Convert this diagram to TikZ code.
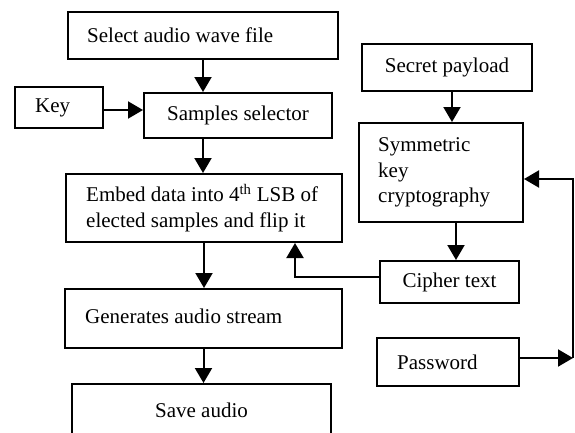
\documentclass[tikz,border=0pt]{standalone}
\usepackage{fontspec}
\setmainfont{Liberation Serif}
\usetikzlibrary{arrows.meta}
\begin{document}
\begin{tikzpicture}[x=1pt,y=-1pt,
  box/.style={draw, line width=2pt, inner sep=0pt},
  txt/.style={inner sep=0pt, align=left, anchor=west},
  arr/.style={line width=2pt, -{Triangle[length=15pt,width=17pt]}},
  every node/.append style={font=\fontsize{21}{25.5}\selectfont}]
\useasboundingbox (0,0) rectangle (575,432);
% left column
\node[box, minimum width=270pt, minimum height=47pt] (sel) at (203,35.5) {};
\node[txt] (selT) at ([xshift=20pt]sel.west) {Select audio wave file};
\node[box, minimum width=88pt, minimum height=41pt] (key) at (59,107.5) {};
\node[txt] (keyT) at ([xshift=21pt]key.west) {Key};
\node[box, minimum width=188pt, minimum height=45pt] (samp) at (238,115.5) {Samples selector};
\node[box, minimum width=276pt, minimum height=68pt] (emb) at (204,208) {};
\node[txt] (embT) at ([xshift=21pt]emb.west) {Embed data into 4\textsuperscript{th} LSB of\\elected samples and flip it};
\node[box, minimum width=277pt, minimum height=59pt] (gen) at (203.5,318.5) {};
\node[txt] (genT) at ([xshift=21pt,yshift=2pt]gen.west) {Generates audio stream};
\node[box, minimum width=259pt, minimum height=52pt] (save) at (201.5,410) {Save audio};
% right column
\node[box, minimum width=170pt, minimum height=47pt] (sp) at (447,67.5) {Secret payload};
\node[box, minimum width=164pt, minimum height=99pt] (sym) at (441,172.5) {};
\node[txt] (symT) at ([xshift=20pt]sym.west) {Symmetric\\key\\cryptography};
\node[box, minimum width=139pt, minimum height=42pt] (ciph) at (449.5,282) {Cipher text};
\node[box, minimum width=142pt, minimum height=48pt] (pw) at (448,362) {};
\node[txt] (pwT) at ([xshift=21pt]pw.west) {Password};
% connectors
\draw[arr] (sel.south) -- (sel.south |- samp.north);
\draw[arr] ([yshift=-2.5pt]key.east) -- ([yshift=-2.5pt]key.east -| samp.west);
\draw[arr] (sel.south |- samp.south) -- (sel.south |- emb.north);
\draw[arr] (emb.south) -- (emb.south |- gen.north);
\draw[arr] (gen.south) -- (gen.south |- save.north);
\draw[arr] ([xshift=5pt]sp.south) -- ([xshift=5pt]sp.south |- sym.north);
\draw[arr] ([xshift=15pt]sym.south) -- ([xshift=15pt]sym.south |- ciph.north);
\draw[arr] ([yshift=5pt]ciph.west) -| ([xshift=91pt]emb.south);
\coordinate (rb) at (573,358);
\coordinate (rt) at (573,179);
\draw[arr] ([yshift=4pt]pw.east) -- (rb);
\draw[arr] (rb) -- (rt) -- ([yshift=-6.5pt]sym.east);
\end{tikzpicture}
\end{document}
